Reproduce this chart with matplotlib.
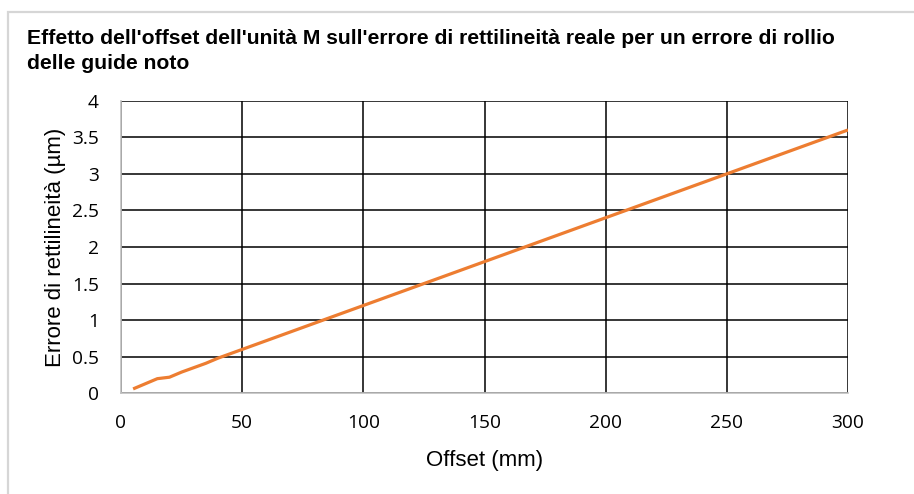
import matplotlib
matplotlib.use('Agg')
import matplotlib.pyplot as plt
from matplotlib.patches import Rectangle

# offset (mm) vs straightness error (µm)
offset_mm = [5, 10, 15, 20, 25, 30, 35, 40, 50, 100, 150, 200, 250, 300]
errore_um = [0.06, 0.13, 0.2, 0.22, 0.29, 0.35, 0.41, 0.48, 0.6, 1.2, 1.8, 2.4, 3.0, 3.6]

x_ticks = [0, 50, 100, 150, 200, 250, 300]
y_ticks = [0, 0.5, 1, 1.5, 2, 2.5, 3, 3.5, 4]
y_tick_labels = ['0', '0.5', '1', '1.5', '2', '2.5', '3', '3.5', '4']

title = ("Effetto dell'offset dell'unità M sull'errore di rettilineità reale per un errore di rollio\n"
         "delle guide noto")

plt.rcParams['font.family'] = ['Open Sans', 'DejaVu Sans']
label_font = ['Liberation Sans', 'DejaVu Sans']

fig = plt.figure(figsize=(9.14, 4.94), dpi=100)
fig.patches.append(Rectangle((8 / 914, -0.1), 1.2, 1 - 12 / 494 + 0.1,
                             transform=fig.transFigure, fill=False,
                             edgecolor='#d6d6d6', linewidth=1.6))

ax = fig.add_axes([121 / 914, 1 - 393.3 / 494, (848 - 121) / 914, (393.3 - 100.7) / 494])
ax.plot(offset_mm, errore_um, color='#ED7D31', linewidth=2.3, solid_capstyle='butt')

ax.set_xlim(0, 300)
ax.set_ylim(0, 4)
ax.set_xticks(x_ticks)
ax.set_yticks(y_ticks)
ax.set_yticklabels(y_tick_labels)
ax.grid(True, color='black', linewidth=1.1)
ax.set_axisbelow(True)
ax.tick_params(length=0, labelsize=13.8)
ax.tick_params(axis='y', pad=16)
ax.tick_params(axis='x', pad=15)

for side in ['top', 'right']:
    ax.spines[side].set_visible(False)
for side in ['left', 'bottom']:
    ax.spines[side].set_color('#c0c0c0')
    ax.spines[side].set_linewidth(1.2)

ax.set_xlabel('Offset (mm)', fontsize=16, family=label_font, labelpad=13)
ax.set_ylabel('Errore di rettilineità (µm)', fontsize=16, family=label_font, labelpad=4)

fig.text(27 / 914, 1 - 29 / 494, title, fontsize=15.2, fontweight='bold',
         family=label_font, va='top', ha='left', linespacing=1.42)

fig.savefig('out.png', dpi=100)
